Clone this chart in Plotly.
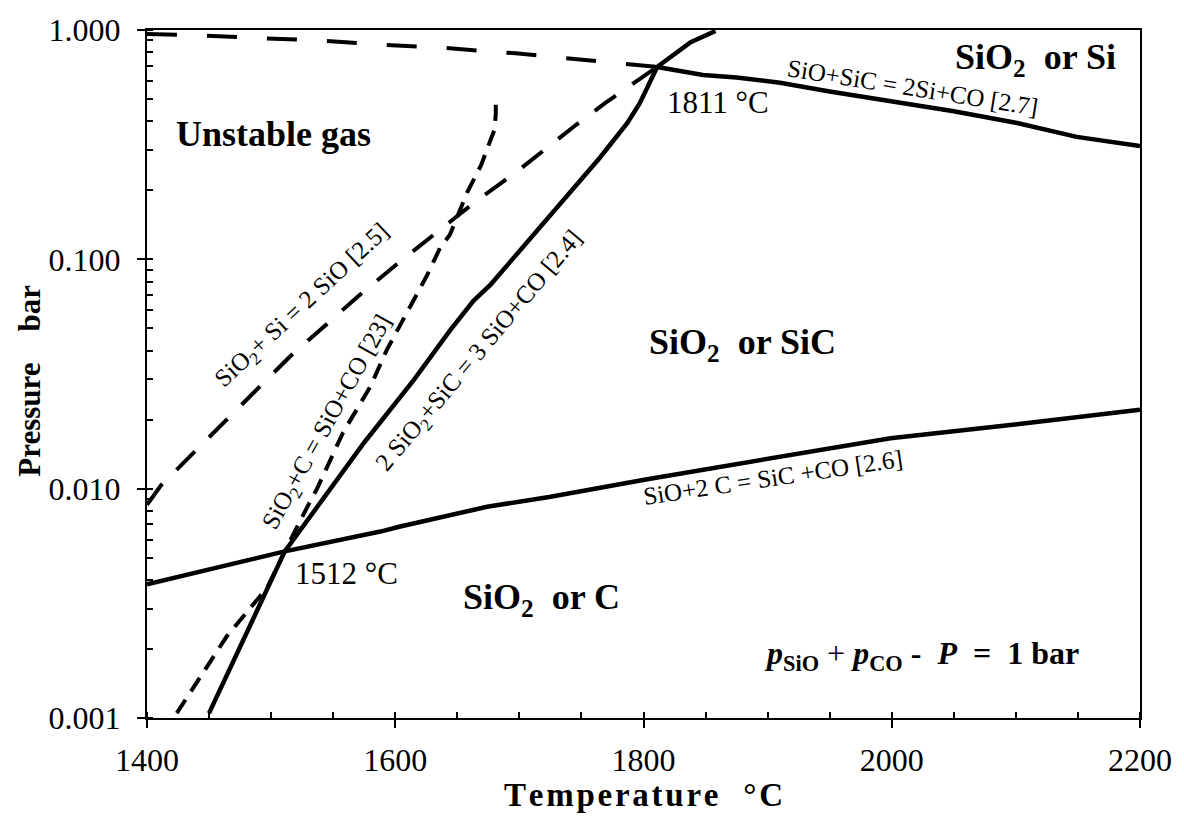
import math
import plotly.graph_objects as go

# ---------------- data ----------------
# Reaction [2.6]  SiO + 2C = SiC + CO   (solid)
t_26 = [1400, 1511, 1588, 1604, 1674, 1724, 1803, 1910, 1999, 2101, 2200]
p_26 = [0.00383, 0.00533, 0.0065, 0.00684, 0.00834, 0.0092, 0.0110, 0.0138, 0.0166, 0.0191, 0.0221]

# Reaction [2.4]  2SiO2 + SiC = 3SiO + CO   (solid)
t_24 = [1450, 1511, 1575, 1615, 1644, 1663, 1677, 1738, 1765, 1787, 1797, 1811, 1838, 1858]
p_24 = [0.00105, 0.00533, 0.0159, 0.0298, 0.0489, 0.0659, 0.0778, 0.190, 0.278, 0.393, 0.480, 0.690, 0.885, 0.99]

# Reaction [2.3]  SiO2 + C = SiO + CO   (dashed)
t_23 = [1424, 1464, 1497, 1511, 1530, 1537, 1558, 1566, 1580, 1593, 1609, 1626, 1636, 1644,
        1658, 1669, 1677, 1680, 1681, 1681]
p_23 = [0.00105, 0.00226, 0.00371, 0.00533, 0.0085, 0.0100, 0.0176, 0.0207, 0.0279, 0.0401,
        0.0578, 0.0859, 0.112, 0.128, 0.196, 0.256, 0.334, 0.368, 0.43, 0.50]

# Reaction [2.5]  SiO2 + Si = 2SiO   (dashed)
t_25 = [1400, 1411, 1435, 1464, 1489, 1515, 1545, 1569, 1601, 1634, 1666, 1697, 1729, 1746,
        1769, 1789, 1811]
p_25 = [0.0085, 0.0103, 0.0139, 0.0200, 0.0270, 0.0376, 0.0523, 0.0682, 0.095, 0.132, 0.181,
        0.239, 0.328, 0.387, 0.480, 0.572, 0.690]

# Upper dashed boundary (unstable gas)
t_top = [1400, 1445, 1492, 1540, 1590, 1641, 1697, 1751, 1800, 1811]
p_top = [0.96, 0.946, 0.921, 0.900, 0.863, 0.834, 0.791, 0.740, 0.700, 0.690]

# Reaction [2.7]  SiO + SiC = 2Si + CO   (solid)
t_27 = [1811, 1848, 1875, 1910, 1950, 1999, 2050, 2101, 2149, 2200]
p_27 = [0.690, 0.636, 0.621, 0.589, 0.539, 0.488, 0.442, 0.393, 0.342, 0.312]

x_tick_vals = [1400, 1600, 1800, 2000, 2200]
y_tick_vals = [0.001, 0.01, 0.1, 1.0]
y_tick_text = ["0.001", "0.010", "0.100", "1.000"]

# ---------------- figure ----------------
SERIF = "Times New Roman, Liberation Serif, serif"
HS = "\u200a"  # hair space for letter spacing in the axis title
fig = go.Figure()

def add_line(t, p, dash, width):
    fig.add_trace(go.Scatter(x=t, y=p, mode="lines",
                             line=dict(color="black", width=width, dash=dash),
                             showlegend=False, hoverinfo="skip"))

add_line(t_26, p_26, "solid", 4.5)
add_line(t_24, p_24, "solid", 4.5)
add_line(t_27, p_27, "solid", 4.5)
add_line(t_23, p_23, "16px,10px", 4)
add_line(t_25, p_25, "26px,20px", 4)
add_line(t_top, p_top, "30px,30px", 4)

def ann(text, t, p, size, bold=False, angle=0):
    fig.add_annotation(x=t, y=math.log10(p), xref="x", yref="y",
                       text=("<b>%s</b>" % text) if bold else text,
                       showarrow=False, textangle=angle,
                       font=dict(family=SERIF, size=size, color="black"),
                       xanchor="center", yanchor="middle")

# region labels
ann("Unstable gas", 1502, 0.352, 36, bold=True)
ann("SiO<sub>2</sub>  or SiC", 1880, 0.0425, 36, bold=True)
ann("SiO<sub>2</sub>  or Si", 2116, 0.74, 36, bold=True)
ann("SiO<sub>2</sub>  or C", 1718, 0.0033, 36, bold=True)

# invariant points
ann("1811 °C", 1860, 0.483, 31)
ann("1512 °C", 1561, 0.00427, 31)

# reaction labels
ann("SiO<sub>2</sub>+ Si = 2 SiO [2.5]", 1525, 0.0625, 25, angle=-43)
ann("SiO<sub>2</sub>+C = SiO+CO [23]", 1546, 0.0194, 25, angle=-61)
ann("2 SiO<sub>2</sub>+SiC = 3 SiO+CO [2.4]", 1668, 0.0398, 25, angle=-50)
ann("SiO+SiC = 2Si+CO [2.7]", 2017, 0.564, 25, angle=9)
ann("SiO+2 C = SiC +CO [2.6]", 1904, 0.0112, 25, angle=-8.4)

# total pressure note
fig.add_annotation(x=2024, y=math.log10(0.00188), xref="x", yref="y", showarrow=False,
                   text="<b><i>p</i><sub>SiO</sub></b> + <b><i>p</i><sub>CO</sub> -\u00a0\u00a0<i>P</i>\u00a0\u00a0=\u00a0\u00a01 bar</b>",
                   font=dict(family=SERIF, size=32, color="black"),
                   xanchor="center", yanchor="middle")

# axis titles
temp_title = HS.join("Temperature") + "\u00a0\u00a0\u00a0" + HS.join("°C")
fig.add_annotation(x=0.5, y=-0.112, xref="paper", yref="paper", showarrow=False,
                   text="<b>%s</b>" % temp_title,
                   font=dict(family=SERIF, size=33, color="black"),
                   xanchor="center", yanchor="middle")
fig.add_annotation(x=-0.118, y=0.49, xref="paper", yref="paper", showarrow=False,
                   text="<b>Pressure\u00a0\u00a0\u00a0\u00a0bar</b>", textangle=-90,
                   font=dict(family=SERIF, size=31, color="black"),
                   xanchor="center", yanchor="middle")

tickfont = dict(family=SERIF, size=32, color="black")

fig.update_layout(
    width=1184, height=817,
    margin=dict(l=147, r=44, t=23, b=99),
    paper_bgcolor="white", plot_bgcolor="white",
    showlegend=False,
    xaxis=dict(range=[1400, 2200], tickvals=x_tick_vals, ticks="outside", ticklen=8,
               tickwidth=2, tickcolor="black", showline=True, linewidth=2, linecolor="black",
               mirror=True, showgrid=False, zeroline=False, tickfont=tickfont,
               ticklabelstandoff=5,
               minor=dict(ticks="inside", ticklen=6, tickwidth=1.5, tickcolor="black",
                          dtick=50, tick0=1400, showgrid=False)),
    xaxis2=dict(range=[1400, 2200], overlaying="x", anchor="y", side="bottom",
                tickvals=x_tick_vals, ticks="inside", ticklen=8, tickwidth=2,
                tickcolor="black", showticklabels=False, showline=False,
                showgrid=False, zeroline=False),
    yaxis=dict(type="log", range=[-3, 0], tickvals=y_tick_vals, ticktext=y_tick_text,
               ticks="outside", ticklen=8, tickwidth=2, tickcolor="black",
               showline=True, linewidth=2, linecolor="black", mirror=True,
               showgrid=False, zeroline=False, tickfont=tickfont, ticklabelstandoff=10,
               minor=dict(ticks="inside", ticklen=6, tickwidth=1.5, tickcolor="black",
                          dtick="D1", showgrid=False)),
    yaxis2=dict(type="log", range=[-3, 0], overlaying="y", anchor="x", side="left",
                tickvals=y_tick_vals, ticks="inside", ticklen=8, tickwidth=2,
                tickcolor="black", showticklabels=False, showline=False,
                showgrid=False, zeroline=False),
)

fig.write_html("out.html", config={"displayModeBar": False},
               post_script="document.body.style.margin='0';document.body.style.overflow='hidden';")
